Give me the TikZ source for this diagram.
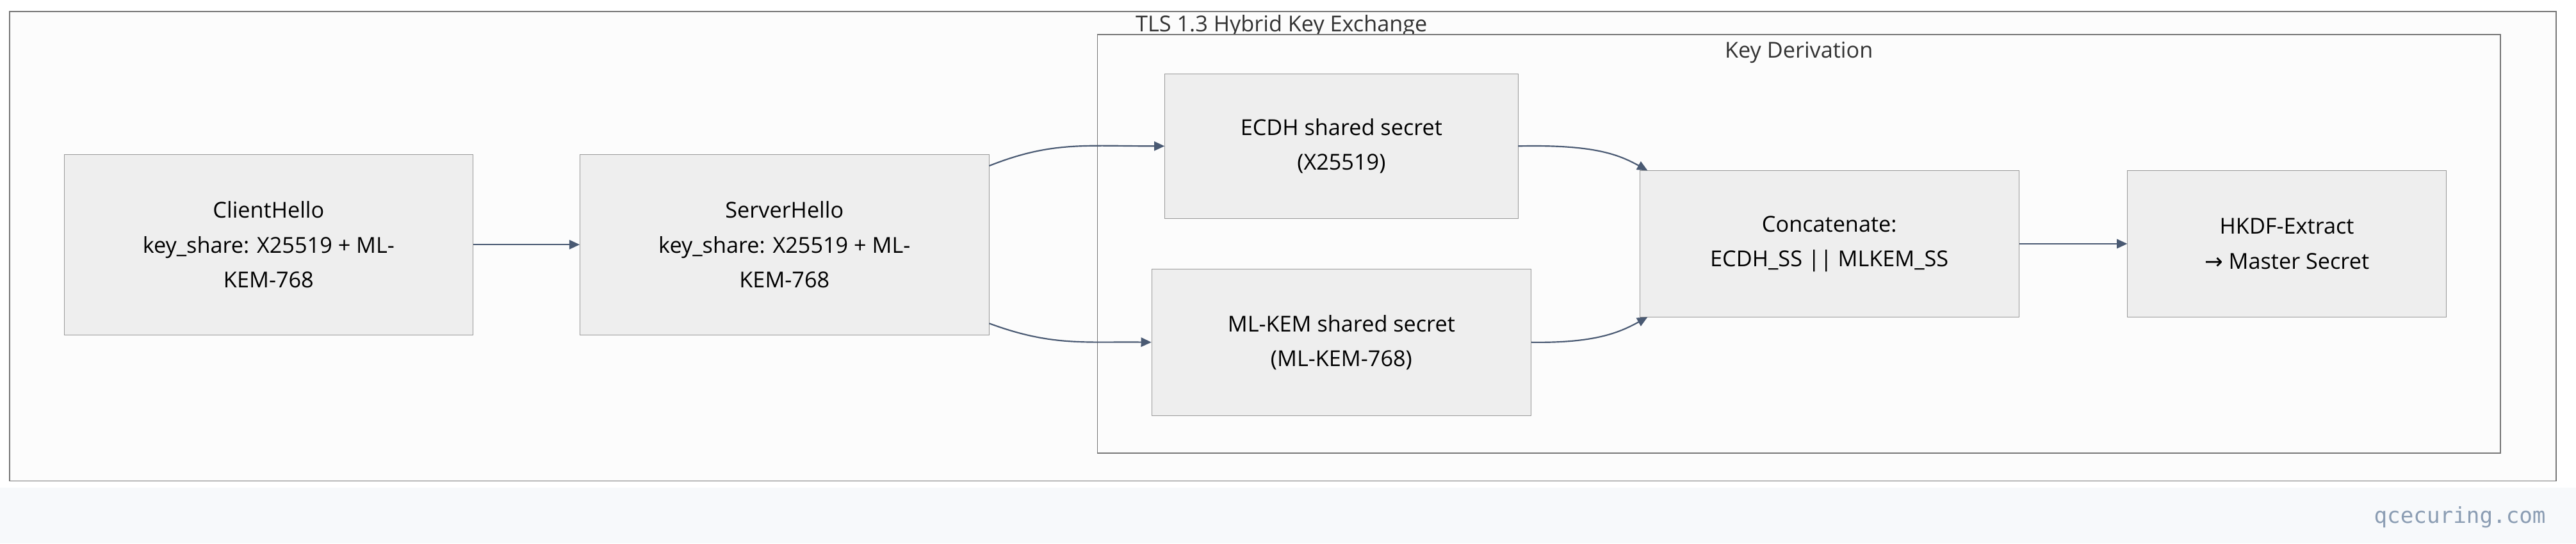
\documentclass[tikz,border=0pt]{standalone}
\usepackage{fontspec}
\setmainfont{Open Sans}
\setmonofont{DejaVu Sans Mono}
\newfontfamily\arrowfont{DejaVu Sans}
\usetikzlibrary{positioning, arrows.meta}
\definecolor{boxfill}{HTML}{EEEEEE}
\definecolor{boxline}{HTML}{999999}
\definecolor{frameline}{HTML}{777777}
\definecolor{edgecol}{HTML}{4A5A73}
\definecolor{bandfill}{HTML}{F7F9FB}
\definecolor{markcol}{HTML}{8B9DB3}
\tikzset{
    x=0.05cm, y=-0.05cm,
    stage/.style={draw=boxline, fill=boxfill, align=center, inner sep=0pt,
        font=\fontsize{19}{30}\selectfont}, % process boxes
    flow/.style={draw=edgecol, line width=1.2pt, -{Triangle[length=9pt,width=8pt]}},
    group/.style={draw=frameline, line width=1pt, fill=white!98!gray},
}
\begin{document}
\begin{tikzpicture}
    \useasboundingbox (0,0) rectangle (1568,331);
    \fill[bandfill] (0,297) rectangle (1568,331);
    \node[anchor=east, font=\ttfamily\fontsize{19}{22}\selectfont, text=markcol] (mark) at (1552,315) {qcecuring.com};
    % frames
    \draw[group] (6,7) rectangle (1556,293);
    \node[font=\fontsize{19}{22}\selectfont, text=black!80] (title) at (780,16) {TLS 1.3 Hybrid Key Exchange};
    \draw[group] (668,21) rectangle (1522,276);
    \node[font=\fontsize{19}{22}\selectfont, text=black!80] (kdlabel) at (1095,32) {Key Derivation};
    % boxes
    \node[stage, minimum width=12.45cm, minimum height=5.5cm] (client) at (163.5,149) {ClientHello\\key\_share: X25519 + ML-\\KEM-768};
    \node[stage, minimum width=12.45cm, minimum height=5.5cm] (server) at (477.5,149) {ServerHello\\key\_share: X25519 + ML-\\KEM-768};
    \node[stage, minimum width=10.75cm, minimum height=4.4cm] (ecdh) at (816.5,89) {ECDH shared secret\\(X25519)};
    \node[stage, minimum width=11.55cm, minimum height=4.45cm] (mlkem) at (816.5,208.5) {ML-KEM shared secret\\(ML-KEM-768)};
    \node[stage, minimum width=11.55cm, minimum height=4.45cm] (concat) at (1113.5,148.5) {Concatenate:\\ECDH\_SS || MLKEM\_SS};
    \node[stage, minimum width=9.7cm, minimum height=4.45cm] (hkdf) at (1392,148.5) {HKDF-Extract\\{\arrowfont →} Master Secret};
    % edges
    \draw[flow] (client) -- (server);
    \draw[flow] ([yshift=2.4cm]server.east) .. controls (640,86) and (660,89) .. (ecdh.west);
    \draw[flow] ([yshift=-2.4cm]server.east) .. controls (640,211) and (660,208) .. (mlkem.west);
    \draw[flow] (ecdh.east) .. controls (970,88) and (985,94) .. ([xshift=0.25cm]concat.north west);
    \draw[flow] (mlkem.east) .. controls (970,209) and (985,203) .. ([xshift=0.25cm]concat.south west);
    \draw[flow] (concat) -- (hkdf);
\end{tikzpicture}
\end{document}
